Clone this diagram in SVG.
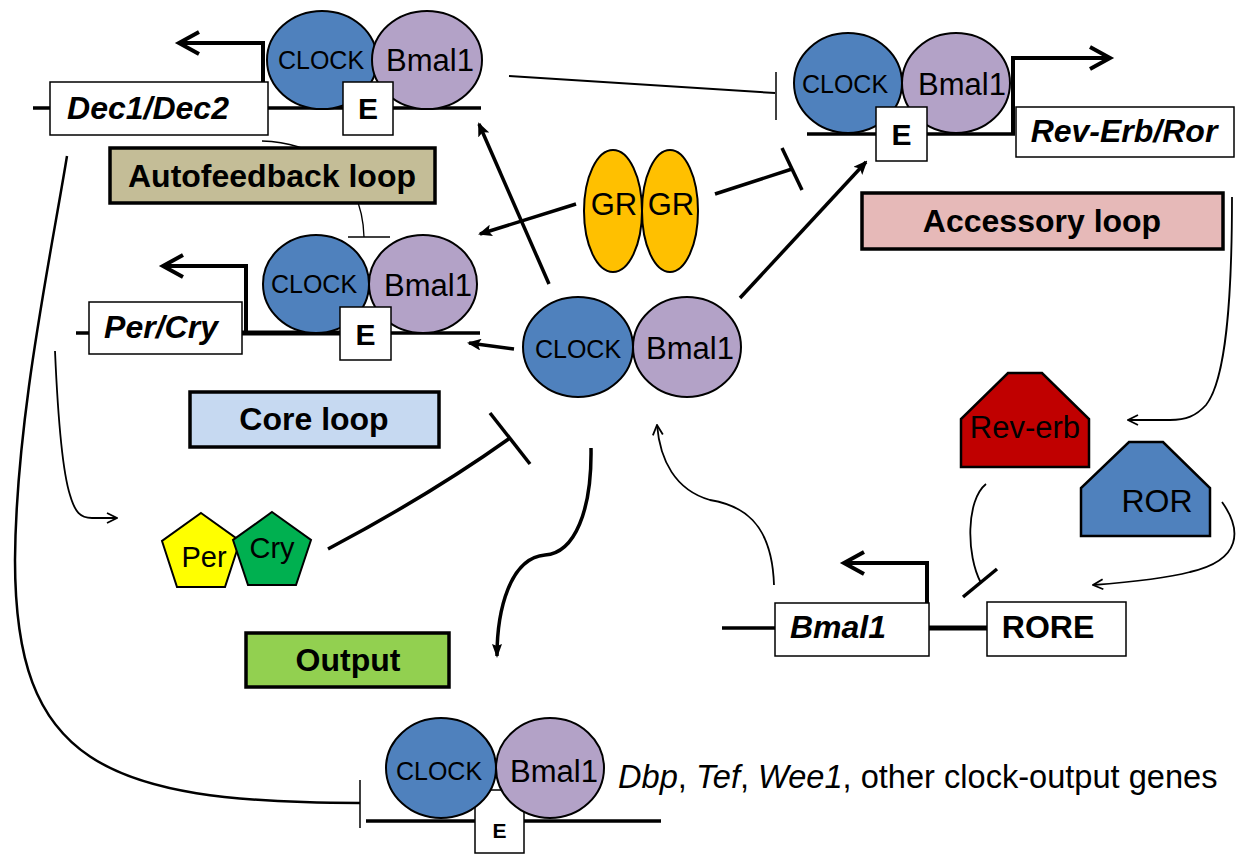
<svg xmlns="http://www.w3.org/2000/svg" width="1238" height="854" viewBox="0 0 1238 854">
<style>
  .dna{stroke:#000;stroke-width:3.5;fill:none}
  .dnaT{stroke:#000;stroke-width:5;fill:none}
  .prom{stroke:#000;stroke-width:4;fill:none;stroke-linejoin:miter}
  .clock{fill:#4f81bd;stroke:#000;stroke-width:2}
  .bmal{fill:#b3a2c7;stroke:#000;stroke-width:2}
  .box{fill:#fff;stroke:#000;stroke-width:1.5}
  .lab{stroke:#000;stroke-width:3.5}
  .t{font-family:"Liberation Sans",Arial,sans-serif;text-anchor:middle;fill:#000}
  .ck{font-size:25px}
  .bm{font-size:31px}
  .e{font-size:30px;font-weight:bold}
  .g{font-size:32px;font-weight:bold;font-style:italic}
  .l{font-size:32px;font-weight:bold}
  .c{fill:none;stroke:#000}
  .w1{stroke-width:1.5}
  .w2{stroke-width:1.8}
  .w3{stroke-width:3.5}
</style>
<defs>
  <marker id="head" viewBox="0 0 14 12" refX="12" refY="6" markerWidth="14" markerHeight="12" markerUnits="userSpaceOnUse" orient="auto">
    <path d="M0,0 L14,6 L0,12 L3,6 z" fill="#000"/>
  </marker>
  <marker id="headN" viewBox="0 0 14 12" refX="12" refY="6" markerWidth="14" markerHeight="14" markerUnits="userSpaceOnUse" orient="auto">
    <path d="M0,1 L14,6 L0,11 L2,6 z" fill="#000"/>
  </marker>
  <marker id="open" viewBox="0 0 12 12" refX="11" refY="6" markerWidth="12" markerHeight="12" markerUnits="userSpaceOnUse" orient="auto">
    <path d="M1,1 L11,6 L1,11" fill="none" stroke="#000" stroke-width="1.8"/>
  </marker>
</defs>
<rect width="1238" height="854" fill="#fff"/>

<!-- regulatory connectors -->
<g id="connectors">
  <!-- CLOCK/Bmal1 (Dec) repression of Rev-Erb/Ror E-box -->
  <line class="c" x1="509" y1="76" x2="775" y2="93" stroke-width="2"/>
  <line class="c w1" x1="776" y1="72" x2="776" y2="120"/>
  <!-- Dec1/Dec2 repression of Per/Cry complex -->
  <path class="c" stroke-width="1.3" d="M262,141 C305,142 362,165 364,237"/>
  <line class="c w1" x1="348" y1="237" x2="390" y2="237"/>
  <!-- Dec1/Dec2 repression of output genes -->
  <path class="c" stroke-width="2.5" d="M67,156 C50,260 16,420 15,560 C15,760 100,803 360,803"/>
  <line class="c w1" x1="360" y1="780" x2="360" y2="828"/>
  <!-- Per/Cry translation -->
  <path class="c w2" d="M55,351 C58,420 62,470 70,495 C75,512 80,518 92,518 L117,518" marker-end="url(#open)"/>
  <!-- Per/Cry repression of CLOCK/Bmal1 -->
  <path class="c w3" d="M328,549 Q430,495 510,438"/>
  <line class="c w3" x1="490" y1="413" x2="530" y2="464"/>
  <!-- output -->
  <path class="c w3" d="M591,448 C592,510 575,553 545,555 C510,558 497,610 497,656" marker-end="url(#headN)"/>
  <!-- CLOCK/Bmal1 activation arrows -->
  <line class="c w3" x1="549" y1="284" x2="479" y2="124" marker-end="url(#head)"/>
  <line class="c w3" x1="576" y1="204" x2="480" y2="234" marker-end="url(#head)"/>
  <line class="c w3" x1="514" y1="349" x2="469" y2="343" marker-end="url(#head)"/>
  <line class="c w3" x1="740" y1="298" x2="866" y2="162" marker-end="url(#head)"/>
  <!-- GR repression -->
  <line class="c w3" x1="715" y1="194" x2="792" y2="169"/>
  <line class="c w3" x1="782" y1="148" x2="802" y2="190"/>
  <!-- Bmal1 translation -->
  <path class="c w2" d="M774,585 C772,520 740,505 710,500 C675,490 660,460 657,425" marker-end="url(#open)"/>
  <!-- accessory loop products -->
  <path class="c w2" d="M1232,197 C1232,300 1226,380 1206,405 C1196,416 1186,420 1170,420 L1128,420" marker-end="url(#open)"/>
  <path class="c w2" d="M1222,502 C1242,530 1242,560 1190,572 C1160,580 1120,583 1093,585" marker-end="url(#open)"/>
  <path class="c w2" d="M986,484 C966,500 966,555 981,583"/>
  <line class="c w3" x1="963" y1="597" x2="997" y2="569"/>
</g>

<!-- Dec1/Dec2 promoter with CLOCK/Bmal1 -->
<g id="dec-gene">
  <line class="dna" x1="33" y1="108" x2="481" y2="108"/>
  <polyline class="prom" points="263,108 263,43 180,43"/>
  <polyline class="prom" points="199,32 179,43 199,54"/>
  <rect class="box" x="50" y="82" width="218" height="53"/>
  <text class="t g" x="148" y="119">Dec1/Dec2</text>
  <ellipse class="clock" cx="322" cy="60" rx="55" ry="49"/>
  <ellipse class="bmal" cx="427" cy="60" rx="55" ry="49"/>
  <text class="t ck" x="321" y="69">CLOCK</text>
  <text class="t bm" x="430" y="71">Bmal1</text>
  <rect class="box" x="343" y="82" width="50" height="53"/>
  <text class="t e" x="368" y="119">E</text>
</g>

<!-- Rev-Erb/Ror promoter with CLOCK/Bmal1 -->
<g id="reverb-gene">
  <line class="dna" x1="807" y1="134" x2="1015" y2="134"/>
  <polyline class="prom" points="1013,134 1013,58 1108,58"/>
  <polyline class="prom" points="1090,47 1110,58 1090,69"/>
  <ellipse class="clock" cx="848" cy="83" rx="54" ry="50"/>
  <ellipse class="bmal" cx="956" cy="83" rx="54" ry="50"/>
  <text class="t ck" x="845" y="93">CLOCK</text>
  <text class="t bm" x="962" y="95">Bmal1</text>
  <rect class="box" x="876" y="107" width="51" height="54"/>
  <text class="t e" x="901.5" y="145">E</text>
  <rect class="box" x="1016" y="107" width="218" height="50"/>
  <text class="t g" x="1124" y="142">Rev-Erb/Ror</text>
</g>

<!-- Per/Cry promoter with CLOCK/Bmal1 -->
<g id="percry-gene">
  <line class="dna" x1="76" y1="333" x2="89" y2="333"/>
  <line class="dna" x1="242" y1="333" x2="480" y2="333"/>
  <line class="dnaT" x1="242" y1="333" x2="343" y2="333"/>
  <polyline class="prom" points="246,333 246,266 164,266"/>
  <polyline class="prom" points="183,255 163,266 183,277"/>
  <rect class="box" x="89" y="302" width="153" height="52"/>
  <text class="t g" x="161" y="338">Per/Cry</text>
  <ellipse class="clock" cx="316" cy="284" rx="53" ry="49"/>
  <ellipse class="bmal" cx="423" cy="284" rx="54" ry="49"/>
  <text class="t ck" x="314" y="293">CLOCK</text>
  <text class="t bm" x="428" y="296">Bmal1</text>
  <rect class="box" x="340" y="307" width="51" height="53"/>
  <text class="t e" x="365.5" y="345">E</text>
</g>

<!-- free CLOCK/Bmal1 heterodimer -->
<g id="clock-bmal1">
  <ellipse class="clock" cx="578" cy="347" rx="55" ry="50"/>
  <ellipse class="bmal" cx="687" cy="347" rx="54" ry="50"/>
  <text class="t ck" x="578" y="358">CLOCK</text>
  <text class="t bm" x="690" y="359">Bmal1</text>
</g>

<!-- glucocorticoid receptor dimer -->
<g id="gr-dimer">
  <ellipse cx="613" cy="211" rx="29" ry="61" fill="#ffc000" stroke="#000" stroke-width="2"/>
  <ellipse cx="670" cy="211" rx="28" ry="61" fill="#ffc000" stroke="#000" stroke-width="2"/>
  <text class="t" x="614" y="215" font-size="31">GR</text>
  <text class="t" x="671" y="215" font-size="31">GR</text>
</g>

<!-- Per/Cry proteins -->
<g id="per-cry">
  <polygon points="201,513 240,541 225,587 177,587 162,541" fill="#ffff00" stroke="#000" stroke-width="2"/>
  <polygon points="272,512 311,540 296,585 248,585 233,540" fill="#00b050" stroke="#000" stroke-width="2"/>
  <text class="t" x="204" y="567" font-size="29">Per</text>
  <text class="t" x="272" y="558" font-size="29">Cry</text>
</g>

<!-- nuclear receptors -->
<g id="rev-erb">
  <polygon points="1008,373 1042,373 1089,419 1089,467 961,467 961,419" fill="#c00000" stroke="#000" stroke-width="2.5"/>
  <text class="t" x="1025" y="438" font-size="31">Rev-erb</text>
</g>
<g id="ror">
  <polygon points="1129,442 1163,442 1210,488 1210,536 1081,536 1081,488" fill="#4f81bd" stroke="#000" stroke-width="2.5"/>
  <text class="t" x="1157" y="512" font-size="32">ROR</text>
</g>

<!-- Bmal1 gene with RORE -->
<g id="bmal1-gene">
  <line class="dna" x1="722" y1="628" x2="775" y2="628"/>
  <line class="dnaT" x1="929" y1="628" x2="987" y2="628"/>
  <polyline class="prom" points="927,603 927,563 846,563"/>
  <polyline class="prom" points="864,552 844,563 864,574"/>
  <rect class="box" x="775" y="603" width="154" height="53"/>
  <text class="t g" x="838" y="638">Bmal1</text>
  <rect class="box" x="987" y="602" width="139" height="54"/>
  <text class="t l" x="1048" y="638">RORE</text>
</g>

<!-- clock-output genes -->
<g id="output-genes">
  <line class="dna" x1="366" y1="821" x2="661" y2="821"/>
  <rect class="box" x="475" y="790" width="49" height="63"/>
  <text class="t" x="499.5" y="838" font-size="21" font-weight="bold">E</text>
  <ellipse class="clock" cx="441" cy="768" rx="55" ry="50"/>
  <ellipse class="bmal" cx="550" cy="768" rx="54" ry="50"/>
  <text class="t ck" x="439" y="780">CLOCK</text>
  <text class="t bm" x="554" y="782">Bmal1</text>
  <text x="618" y="788" font-family="Liberation Sans, Arial, sans-serif" font-size="32.6"><tspan font-style="italic">Dbp</tspan>, <tspan font-style="italic">Tef</tspan>, <tspan font-style="italic">Wee1</tspan>, other clock-output genes</text>
</g>

<!-- loop labels -->
<g id="autofeedback-loop">
  <rect class="lab" x="110" y="148" width="325" height="55" fill="#c4bd97"/>
  <text class="t l" x="272" y="187">Autofeedback loop</text>
</g>
<g id="core-loop">
  <rect class="lab" x="190" y="392" width="249" height="55" fill="#c6d9f1"/>
  <text class="t l" x="314" y="430">Core loop</text>
</g>
<g id="accessory-loop">
  <rect class="lab" x="862" y="193" width="361" height="56" fill="#e6b9b8"/>
  <text class="t l" x="1042" y="232">Accessory loop</text>
</g>
<g id="output">
  <rect class="lab" x="246" y="633" width="203" height="54" fill="#92d050"/>
  <text class="t l" x="348" y="671">Output</text>
</g>
</svg>
